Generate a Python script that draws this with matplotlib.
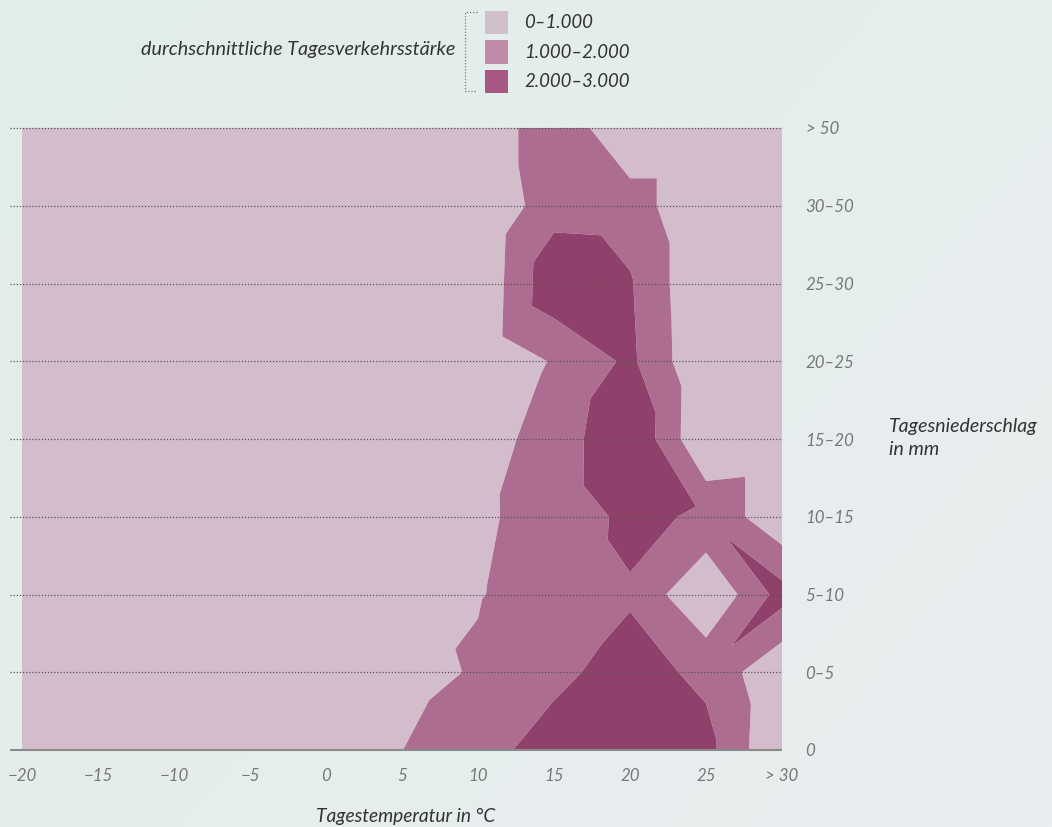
import numpy as np
import matplotlib
matplotlib.use("Agg")
import matplotlib.pyplot as plt
from matplotlib.tri import Triangulation
from matplotlib.patches import Rectangle
from matplotlib.colors import LinearSegmentedColormap

plt.rcParams['font.family'] = ['Lato', 'DejaVu Sans']

# temperature columns (°C) and precipitation classes (rows)
temps = [-20, -15, -10, -5, 0, 5, 10, 15, 20, 25, 30]
temp_labels = ['\u221220', '\u221215', '\u221210', '\u22125', '0', '5', '10', '15', '20', '25', '> 30']
rain_labels = ['0', '0\u20135', '5\u201310', '10\u201315', '15\u201320', '20\u201325',
               '25\u201330', '30\u201350', '> 50']

# average daily traffic, one list per precipitation class (bottom to top)
traffic_0 = [150, 200, 300, 450, 700, 990, 1700, 2350, 2700, 2300, 0]
traffic_1 = [100, 150, 250, 350, 500, 608, 1104, 1800, 2350, 1800, 100]
traffic_2 = [80, 120, 200, 300, 450, 757, 953, 1400, 1900, 0, 2400]
traffic_3 = [60, 100, 150, 250, 400, 600, 857, 1350, 2250, 1850, 200]
traffic_4 = [50, 80, 120, 200, 300, 450, 624, 1361, 3000, 0, 200]
traffic_5 = [30, 50, 100, 150, 200, 250, 180, 1081, 2200, 50, 0]
traffic_6 = [20, 30, 60, 100, 150, 120, 101, 2744, 2091, 0, 0]
traffic_7 = [0, 20, 40, 60, 80, 50, 0, 1613, 1544, 0, 0]
traffic_8 = [0, 0, 20, 30, 40, 20, 0, 1887, 0, 0, 0]

levels = [0, 1000, 2000, 3000]
class_labels = ['0\u20131.000', '1.000\u20132.000', '2.000\u20133.000']
fill_colors = ['#d3bdcd', '#ad6d90', '#90416b']
legend_colors = ['#d1bfcc', '#bf8aa8', '#a85684']

Z = np.array([traffic_0, traffic_1, traffic_2, traffic_3, traffic_4,
              traffic_5, traffic_6, traffic_7, traffic_8], dtype=float)
ny, nx = Z.shape
X, Y = np.meshgrid(np.array(temps, dtype=float), np.arange(ny, dtype=float))

# split every grid cell along the diagonal joining the larger pair of values
idx = np.arange(nx * ny).reshape(ny, nx)
z = Z.ravel()
tris = []
for j in range(ny - 1):
    for i in range(nx - 1):
        a, b = idx[j, i], idx[j, i + 1]
        d, e = idx[j + 1, i], idx[j + 1, i + 1]
        if z[a] + z[e] >= z[b] + z[d]:
            tris += [[a, b, e], [a, e, d]]
        else:
            tris += [[a, b, d], [b, e, d]]
tri = Triangulation(X.ravel(), Y.ravel(), np.array(tris))

fig = plt.figure(figsize=(10.52, 8.27), dpi=100)

# soft background gradient
bg = fig.add_axes([0, 0, 1, 1])
bg_cmap = LinearSegmentedColormap.from_list('bg', ['#e1edea', '#eaeef0'])
gx, gy = np.meshgrid(np.linspace(0, 1, 200), np.linspace(0, 1, 200))
bg.imshow(0.6 * gx + 0.4 * gy, cmap=bg_cmap, aspect='auto', extent=[0, 1, 0, 1])
bg.axis('off')

ax = fig.add_axes([22 / 1052, 77 / 827, 760 / 1052, 622 / 827])
ax.tricontourf(tri, z, levels=levels, colors=fill_colors, antialiased=True)

ax.set_xlim(-20, 30)
ax.set_ylim(0, ny - 1)
ax.hlines(np.arange(1, ny), -20.8, 30, colors='#555555', linestyles=(0, (1, 1.5)),
          linewidth=0.9, clip_on=False, zorder=3)
ax.hlines(0, -20.8, 30, colors='#8a8a8a', linewidth=1.5, clip_on=False, zorder=3)

for s in ax.spines.values():
    s.set_visible(False)
ax.set_xticks(temps)
ax.set_xticklabels(temp_labels, fontsize=12.2, style='italic', color='#777777')
ax.set_yticks(np.arange(ny))
ax.set_yticklabels(rain_labels, fontsize=12.2, style='italic', color='#777777')
ax.yaxis.tick_right()
ax.tick_params(axis='both', length=0)
ax.tick_params(axis='x', pad=13)
ax.tick_params(axis='y', pad=17)
for lab in ax.get_yticklabels():
    lab.set_horizontalalignment('left')

fig.text(406 / 1052, 1 - 816 / 827, 'Tagestemperatur in \u00b0C', ha='center', va='center',
         fontsize=13.8, style='italic', color='#333333')
fig.text(889 / 1052, 1 - 438 / 827, 'Tagesniederschlag\nin mm', ha='left', va='center',
         fontsize=14, style='italic', color='#333333', linespacing=1.45)

# legend
fig.text(455 / 1052, 1 - 49 / 827, 'durchschnittliche Tagesverkehrsst\u00e4rke', ha='right',
         va='center', fontsize=14.2, style='italic', color='#333333')
fig.lines.append(plt.Line2D([477 / 1052, 465 / 1052, 465 / 1052, 477 / 1052],
                            [1 - 12 / 827, 1 - 12 / 827, 1 - 91 / 827, 1 - 91 / 827],
                            transform=fig.transFigure, color='#777777', linewidth=0.9,
                            linestyle=(0, (1, 1.5))))
for k, (col, lab) in enumerate(zip(legend_colors, class_labels)):
    yc = 22.5 + 29.5 * k
    fig.patches.append(Rectangle((485 / 1052, 1 - (yc + 11.5) / 827), 23 / 1052, 23 / 827,
                                 transform=fig.transFigure, facecolor=col, edgecolor='none'))
    fig.text(524 / 1052, 1 - yc / 827, lab, ha='left', va='center', fontsize=13.4,
             style='italic', color='#333333')

fig.savefig('out.png', dpi=100)
